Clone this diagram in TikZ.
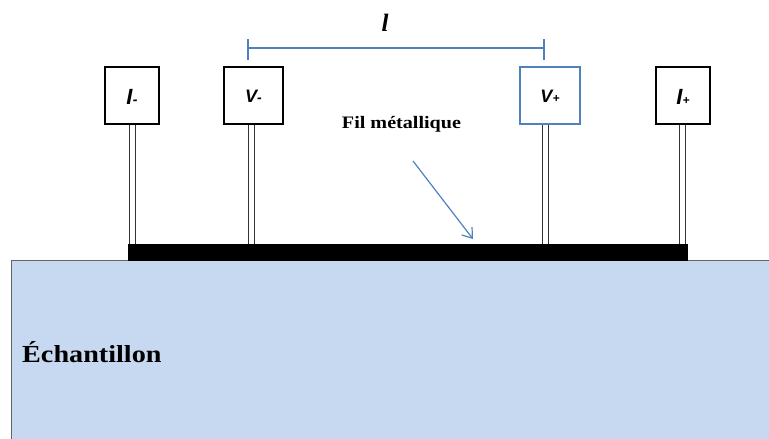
\documentclass[tikz,border=0pt]{standalone}
\usepackage{fontspec}
\setmainfont{Liberation Serif}
\newfontfamily\serifwide{Liberation Serif}[FakeStretch=1.15]
\newfontfamily\sanslab{Liberation Sans}
\usetikzlibrary{arrows.meta}
\definecolor{sample}{RGB}{198,217,240}
\definecolor{samplebd}{RGB}{100,100,100}
\definecolor{accent}{RGB}{79,129,189}
\tikzset{
  probe/.style={draw=black, line width=1.1pt, fill=white, minimum height=57pt, inner sep=0pt},
  post/.style={draw=black!80, line width=0.9pt, fill=white},
  lab/.style={font=\sanslab\bfseries\itshape},
}
\begin{document}
\begin{tikzpicture}[x=1pt,y=-1pt]
\useasboundingbox (0,0) rectangle (769,439);
% sample
\path[fill=sample] (11,260) rectangle (769,440);
\draw[samplebd, line width=1pt] (11,440) -- (11,260) -- (769,260);
\node[anchor=base west, inner sep=0pt, font=\serifwide\bfseries\fontsize{24.5}{28}\selectfont] (ech) at (22,362) {Échantillon};
% posts
\draw[post] (129,124) rectangle (135,245);
\draw[post] (248,124) rectangle (254,245);
\draw[post] (542,124) rectangle (548,245);
\draw[post] (679,124) rectangle (685,245);
% wire
\node[fill=black, draw=black, minimum width=559pt, minimum height=16pt, inner sep=0pt] (wire) at (407.5,252) {};
% probe boxes
\node[probe, minimum width=54pt] (im) at (132,95.5) {};
\node[probe, minimum width=59pt] (vm) at (253.5,95.5) {};
\node[probe, draw=accent, minimum width=60pt] (vp) at (550,95.5) {};
\node[probe, minimum width=54pt] (ip) at (683,95.5) {};
\node[lab, anchor=base, inner sep=0pt] (imt) at (im.center |- 0,104) {\fontsize{22}{24}\selectfont I\kern0.5pt{\fontsize{14}{16}\selectfont -}};
\node[lab, anchor=base, inner sep=0pt] (vmt) at (vm.center |- 0,102.5) {\fontsize{18}{20}\selectfont V{\fontsize{14}{16}\selectfont -}};
\node[lab, anchor=base, inner sep=0pt] (vpt) at (vp.center |- 0,102.5) {\fontsize{18}{20}\selectfont V{\fontsize{12}{14}\selectfont +}};
\node[lab, anchor=base, inner sep=0pt] (ipt) at (ip.center |- 0,104.5) {\fontsize{22}{24}\selectfont I{\fontsize{12}{14}\selectfont +}};
% length bracket
\coordinate (bl) at (248,48);
\coordinate (br) at (544,48);
\draw[accent, line width=1.2pt] (bl) -- (br);
\draw[accent, line width=1.2pt] (248,39) -- (248,60);
\draw[accent, line width=1.2pt] (544,39) -- (544,60);
\node[anchor=base, inner sep=0pt, font=\bfseries\itshape\fontsize{25}{28}\selectfont] (ll) at (385,31) {l};
% label and arrow
\node[anchor=base, inner sep=0pt, font=\serifwide\bfseries\fontsize{17.5}{20}\selectfont] (fil) at (401.5,128.5) {Fil métallique};
\coordinate (arrs) at (413,161);
\coordinate (arre) at (473,239);
\draw[accent, line width=1.2pt, -{Straight Barb[length=9pt,width=13pt]}] (arrs) -- (arre);
\end{tikzpicture}
\end{document}
